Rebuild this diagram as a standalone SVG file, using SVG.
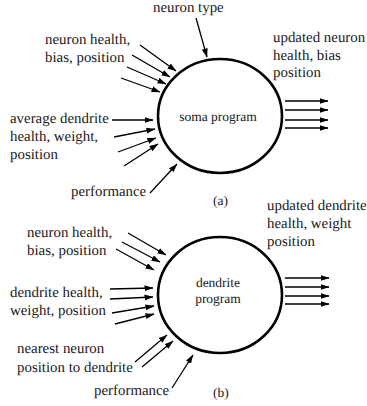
<svg xmlns="http://www.w3.org/2000/svg" width="367" height="406" viewBox="0 0 367 406" font-family="'Liberation Serif', 'Times New Roman', Times, serif">
<style>
text{font-family:'Liberation Serif', 'Times New Roman', Times, serif;fill:#1a1a1a;text-rendering:geometricPrecision;}
.lbl{font-size:14.9px;}
.in{font-size:13.5px;}
.body{fill:#fff;stroke:#000;stroke-width:2.6;}
.arr{stroke:#000;stroke-width:1.3;fill:none;marker-end:url(#ah);}
</style>
<defs>
<marker id="ah" markerUnits="userSpaceOnUse" markerWidth="9" markerHeight="7" refX="8.5" refY="3" orient="auto">
<path d="M0,0 L9,3 L0,6 z" fill="#000"/>
</marker>
</defs>
<rect width="367" height="406" fill="#fff"/>
<g id="soma">
<ellipse class="body" cx="220" cy="116" rx="62" ry="57"/>
<text class="in" x="218" y="121" text-anchor="middle">soma program</text>
</g>
<g id="dendrite">
<ellipse class="body" cx="220" cy="295" rx="62" ry="58"/>
<text class="in" x="218" y="287" text-anchor="middle">dendrite</text>
<text class="in" x="218" y="303" text-anchor="middle">program</text>
</g>
<g id="labels-a">
<text class="lbl" x="153" y="12">neuron type</text>
<text class="lbl" x="45" y="44">neuron health,</text>
<text class="lbl" x="45" y="62">bias, position</text>
<text class="lbl" x="273" y="42">updated neuron</text>
<text class="lbl" x="273" y="60">health, bias</text>
<text class="lbl" x="273" y="77">position</text>
<text class="lbl" x="10" y="123">average dendrite</text>
<text class="lbl" x="10" y="141">health, weight,</text>
<text class="lbl" x="10" y="159">position</text>
<text class="lbl" x="71" y="196">performance</text>
<text class="in" x="213" y="205">(a)</text>
</g>
<g id="labels-b">
<text class="lbl" x="267" y="210">updated dendrite</text>
<text class="lbl" x="267" y="228">health, weight</text>
<text class="lbl" x="267" y="246">position</text>
<text class="lbl" x="27" y="237">neuron health,</text>
<text class="lbl" x="27" y="255">bias, position</text>
<text class="lbl" x="10" y="297">dendrite health,</text>
<text class="lbl" x="10" y="315">weight, position</text>
<text class="lbl" x="17" y="353">nearest neuron</text>
<text class="lbl" x="17" y="372">position to dendrite</text>
<text class="lbl" x="94" y="395">performance</text>
<text class="in" x="213" y="397">(b)</text>
</g>
<g id="connectors">
<line class="arr" x1="196" y1="18" x2="207" y2="57"/>
<line class="arr" x1="140" y1="45" x2="176" y2="71"/>
<line class="arr" x1="132" y1="55" x2="170" y2="77"/>
<line class="arr" x1="127" y1="67" x2="166" y2="84"/>
<line class="arr" x1="121" y1="78" x2="160" y2="92"/>
<line class="arr" x1="112" y1="120" x2="153" y2="120"/>
<line class="arr" x1="114" y1="137" x2="155" y2="129"/>
<line class="arr" x1="118" y1="152" x2="156" y2="138"/>
<line class="arr" x1="124" y1="166" x2="158" y2="144"/>
<line class="arr" x1="150" y1="193" x2="177" y2="164"/>
<line class="arr" x1="285" y1="101" x2="328" y2="101"/>
<line class="arr" x1="285" y1="110" x2="328" y2="110"/>
<line class="arr" x1="285" y1="120" x2="328" y2="120"/>
<line class="arr" x1="285" y1="128" x2="328" y2="128"/>
<line class="arr" x1="128" y1="233" x2="166" y2="255"/>
<line class="arr" x1="122" y1="242" x2="160" y2="262"/>
<line class="arr" x1="116" y1="249" x2="154" y2="270"/>
<line class="arr" x1="110" y1="289" x2="153" y2="288"/>
<line class="arr" x1="110" y1="299" x2="153" y2="297"/>
<line class="arr" x1="112" y1="313" x2="154" y2="306"/>
<line class="arr" x1="115" y1="324" x2="154" y2="314"/>
<line class="arr" x1="135" y1="362" x2="167" y2="335"/>
<line class="arr" x1="142" y1="367" x2="173" y2="341"/>
<line class="arr" x1="172" y1="388" x2="193" y2="355"/>
<line class="arr" x1="285" y1="278" x2="329" y2="278"/>
<line class="arr" x1="285" y1="287" x2="329" y2="287"/>
<line class="arr" x1="285" y1="296" x2="329" y2="296"/>
<line class="arr" x1="285" y1="304" x2="329" y2="304"/>
</g>
</svg>
